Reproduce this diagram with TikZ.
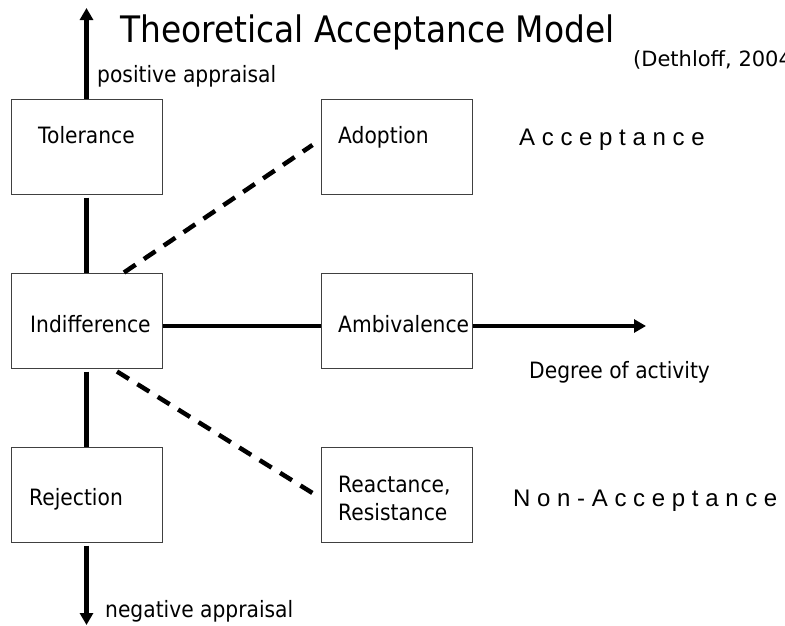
\documentclass[tikz,border=0pt]{standalone}
\usepackage{fontspec}
\setmainfont{DejaVu Sans}[FakeStretch=0.9]
\newfontfamily\widefont{DejaVu Sans}
\newfontfamily\arialfont{Liberation Sans}
\usetikzlibrary{arrows.meta}
\begin{document}
\begin{tikzpicture}[x=1pt,y=-1pt,
  box/.style={draw=black!75,line width=1pt,rectangle,minimum width=151pt,minimum height=95pt,inner sep=0pt},
  lbl/.style={anchor=base west,inner sep=0pt,font=\fontsize{22.5}{27}\selectfont},
  spaced/.style={anchor=base west,inner sep=0pt,font=\arialfont\fontsize{24}{28}\selectfont},
  axis/.style={line width=4.5pt},
  axisarrow/.style={line width=4.5pt,-{Triangle[length=12pt,width=13pt]}},
  dashline/.style={line width=4.5pt,dash pattern=on 14pt off 10pt}]
\useasboundingbox (0,0) rectangle (785,625);

% boxes
\node[box] (tol) at (86.5,146.5) {};
\node[box] (ado) at (396.5,146.5) {};
\node[box] (ind) at (86.5,320.5) {};
\node[box] (amb) at (396.5,320.5) {};
\node[box] (rej) at (86.5,494.5) {};
\node[box] (rea) at (396.5,494.5) {};

% box texts
\node[lbl] (tTol) at (38,143) {Tolerance};
\node[lbl] (tAdo) at (338,143) {Adoption};
\node[lbl] (tInd) at (30,332) {Indifference};
\node[lbl] (tAmb) at (338,332) {Ambivalence};
\node[lbl] (tRej) at (29,505) {Rejection};
\node[lbl,align=left,anchor=north west,font=\fontsize{22.5}{28}\selectfont] (tRea) at (338,476) {Reactance,\\Resistance};

% title and side texts
\node[anchor=base west,inner sep=0pt,font=\fontsize{36.5}{40}\selectfont] (title) at (120,42) {Theoretical Acceptance Model};
\node[anchor=base west,inner sep=0pt,font=\widefont\fontsize{21}{24}\selectfont] (src) at (633,66) {(Dethloff, 2004)};
\node[lbl] (pos) at (97,82) {positive appraisal};
\node[lbl] (neg) at (105,617) {negative appraisal};
\node[lbl] (deg) at (529,378) {Degree of activity};
\node[spaced] (acc) at (519,145) {A c c e p t a n c e};
\node[spaced] (nacc) at (513,506) {N o n - A c c e p t a n c e};

% axis end points
\coordinate (topend) at (86.5,8);
\coordinate (botend) at (86.5,625);
\coordinate (rightend) at (646,326);

% vertical axis
\draw[axisarrow] (tol.north) -- (topend);
\draw[axis] ([yshift=-3pt]tol.south) -- (ind.north);
\draw[axis] ([yshift=-3pt]ind.south) -- (rej.north);
\draw[axisarrow] ([yshift=-3pt]rej.south) -- (botend);

% horizontal axis
\draw[axis] ([yshift=-5.5pt]ind.east) -- ([yshift=-5.5pt]amb.west);
\draw[axisarrow] ([yshift=-5.5pt]amb.east) -- (rightend);

% dashed links
\draw[dashline] ([xshift=37.5pt]ind.north) -- ([xshift=-8pt,yshift=1.5pt]ado.west);
\draw[dashline] ([xshift=30.5pt,yshift=-3pt]ind.south) -- ([yshift=-3.5pt]rea.west);
\end{tikzpicture}
\end{document}
